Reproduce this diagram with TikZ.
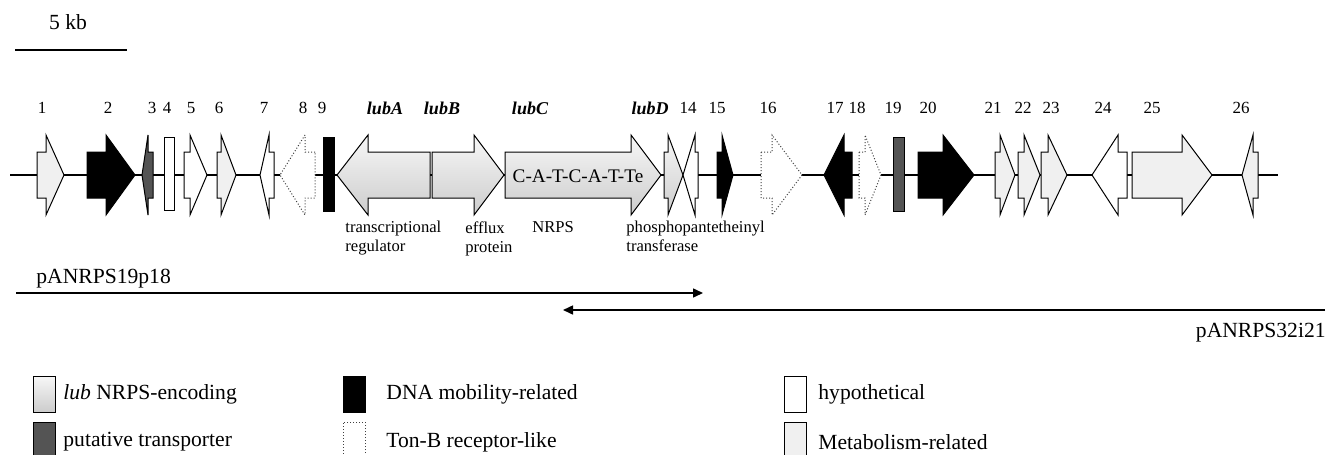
\documentclass[tikz,border=0pt]{standalone}
\usepackage{fontspec}
\setmainfont{Liberation Serif}
\usetikzlibrary{arrows.meta}

\tikzset{
  met/.style={draw, line width=0.5pt, fill=gray!12},
  mob/.style={draw, line width=0.5pt, fill=black},
  trans/.style={draw, line width=0.5pt, fill=black!67},
  hyp/.style={draw, line width=0.5pt, fill=white},
  tonb/.style={draw=black!75, line width=0.5pt, densely dotted, fill=white},
  lub/.style={draw, line width=0.5pt, top color=gray!6, bottom color=gray!40},
  gnum/.style={font=\fontsize{8.5}{10}\selectfont, inner sep=0pt},
  gname/.style={font=\fontsize{9}{10}\selectfont\bfseries\itshape, inner sep=0pt},
  gdesc/.style={font=\fontsize{8.3}{9.5}\selectfont, inner sep=0pt, align=left, anchor=north west},
  big/.style={font=\fontsize{10.8}{12}\selectfont, inner sep=0pt},
  legbox/.style={minimum width=11pt, minimum height=18pt, inner sep=0pt},
  clone/.style={line width=0.75pt, -{Triangle[length=5pt, width=4.5pt]}}
}

% ген: хвост, основание головки, острие, стиль
\newcommand{\gene}[4]{%
  \draw [#4] ( #1, 152 ) -- ( #2, 152 ) -- ( #2, 135 ) -- ( #3, 175 )
    -- ( #2, 215 ) -- ( #2, 198 ) -- ( #1, 198 ) -- cycle;}

\begin{document}
\begin{tikzpicture}[x=0.5pt, y=-0.5pt]
  \useasboundingbox ( 0, 0 ) rectangle ( 1328, 455 );

  % масштаб
  \coordinate (sbA) at ( 15, 50 );
  \coordinate (sbB) at ( 127, 50 );
  \draw [line width=0.75pt] (sbA) -- (sbB);
  \node [big] (kb) at ( 68, 22 ) {5 kb};

  % ось
  \coordinate (axA) at ( 10, 175 );
  \coordinate (axB) at ( 1278, 175 );
  \draw [line width=0.75pt] (axA) -- (axB);

  % гены
  \gene{ 37 }{ 46 }{ 64 }{met}
  \gene{ 87 }{ 106 }{ 135 }{mob}
  \gene{ 153 }{ 148 }{ 142 }{trans}
  \draw [hyp] ( 164, 137 ) rectangle ( 174, 210 );
  \gene{ 184 }{ 190 }{ 207 }{hyp}
  \gene{ 217 }{ 221 }{ 236 }{met}
  \gene{ 274 }{ 269 }{ 260 }{hyp}
  \gene{ 315 }{ 305 }{ 280 }{tonb}
  \draw [mob] ( 323, 137 ) rectangle ( 334, 211 );
  \gene{ 430 }{ 368 }{ 337 }{lub}
  \gene{ 432 }{ 474 }{ 504 }{lub}
  \gene{ 505 }{ 631 }{ 661 }{lub}
  \gene{ 664 }{ 668 }{ 683 }{lub}
  \gene{ 698 }{ 695 }{ 683 }{hyp}
  \gene{ 717 }{ 722 }{ 733 }{mob}
  \gene{ 761 }{ 772 }{ 802 }{tonb}
  \gene{ 852 }{ 844 }{ 824 }{mob}
  \gene{ 859 }{ 865 }{ 881 }{tonb}
  \draw [trans] ( 893, 137 ) rectangle ( 904, 211 );
  \gene{ 918 }{ 943 }{ 974 }{mob}
  \gene{ 995 }{ 1000 }{ 1015 }{met}
  \gene{ 1018 }{ 1024 }{ 1040 }{met}
  \gene{ 1041 }{ 1048 }{ 1067 }{met}
  \gene{ 1127 }{ 1118 }{ 1092 }{hyp}
  \gene{ 1132 }{ 1182 }{ 1212 }{met}
  \gene{ 1258 }{ 1253 }{ 1242 }{met}
  \node [font=\fontsize{9.6}{11}\selectfont, inner sep=0pt] (dom) at ( 578, 176 ) {C-A-T-C-A-T-Te};

  % номера
  \foreach \x/\n in {42/1, 108/2, 152/3, 167/4, 191/5, 219/6, 264/7, 303/8, 322/9,
      688/14, 717/15, 768/16, 835/17, 857/18, 893/19, 928/20, 993/21, 1023/22,
      1051/23, 1103/24, 1152/25, 1241/26}
    \node [gnum] (n\n) at ( \x, 108 ) {\n};
  \foreach \x/\n in {385/A, 442/B, 530/C, 650/D}
    \node [gname] (lub\n) at ( \x, 108 ) {lub\n};

  % подписи
  \node [gdesc] (dA) at ( 345, 221 ) {transcriptional\\regulator};
  \node [gdesc] (dB) at ( 465, 221 ) {efflux\\protein};
  \node [gdesc] (dC) at ( 532, 221 ) {NRPS};
  \node [gdesc] (dD) at ( 626, 221 ) {phosphopantetheinyl\\transferase};

  % плазмиды
  \node [big, anchor=base west] (p18) at ( 36, 283 ) {pANRPS19p18};
  \coordinate (p18a) at ( 16, 293 );
  \coordinate (p18b) at ( 703, 293 );
  \draw [clone] (p18a) -- (p18b);
  \coordinate (p21a) at ( 1325, 310 );
  \coordinate (p21b) at ( 563, 310 );
  \draw [clone] (p21a) -- (p21b);
  \node [big, anchor=base east] (p21) at ( 1326, 337 ) {pANRPS32i21};

  % легенда
  \node [legbox, lub] (bLub) at ( 44, 394 ) {};
  \node [legbox, mob] (bMob) at ( 354, 394 ) {};
  \node [legbox, hyp] (bHyp) at ( 795, 394 ) {};
  \node [legbox, trans] (bTra) at ( 44, 440 ) {};
  \node [legbox, tonb] (bTon) at ( 354, 440 ) {};
  \node [legbox, met] (bMet) at ( 795, 440 ) {};
  \node [big, anchor=west] (tLub) at ( 63, 394 ) {\textit{lub} NRPS-encoding};
  \node [big, anchor=west] (tMob) at ( 386, 394 ) {DNA mobility-related};
  \node [big, anchor=west] (tHyp) at ( 818, 394 ) {hypothetical};
  \node [big, anchor=west] (tTra) at ( 63, 442 ) {putative transporter};
  \node [big, anchor=west] (tTon) at ( 386, 442 ) {Ton-B receptor-like};
  \node [big, anchor=west] (tMet) at ( 818, 442 ) {Metabolism-related};
\end{tikzpicture}
\end{document}
